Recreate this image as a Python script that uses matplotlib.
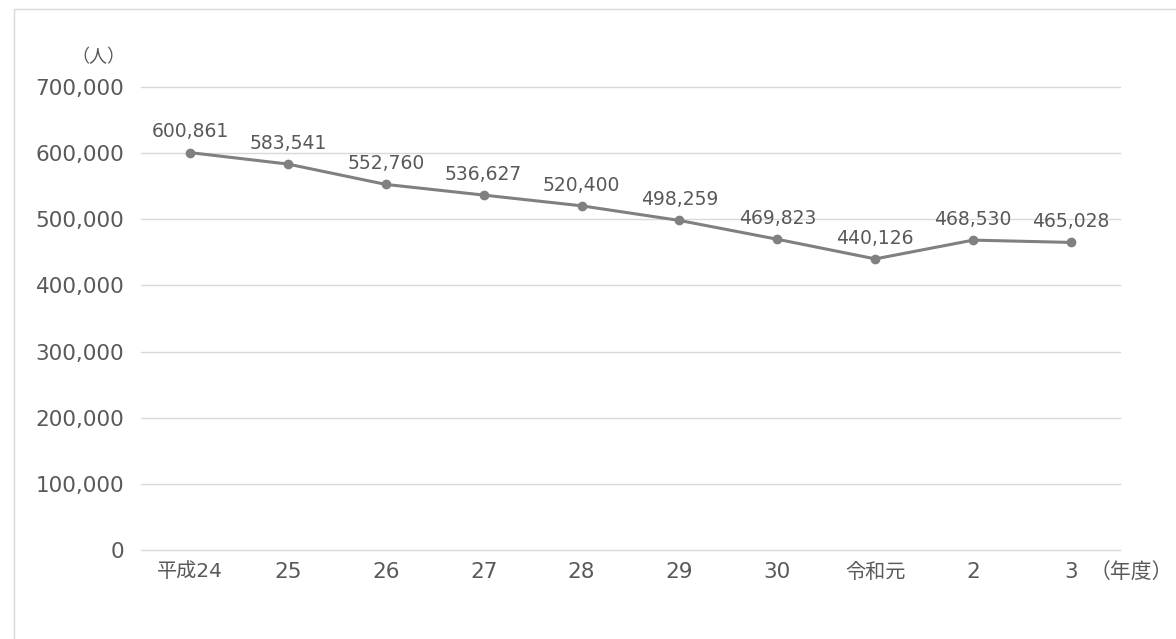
import matplotlib.pyplot as plt
from matplotlib.ticker import FuncFormatter
from matplotlib.patches import Rectangle

plt.rcParams['font.family'] = ['DejaVu Sans', 'Noto Sans CJK JP']

years = ["平成24", "25", "26", "27", "28", "29", "30", "令和元", "2", "3"]
counts = [600861, 583541, 552760, 536627, 520400, 498259, 469823, 440126, 468530, 465028]
yticks = [0, 100000, 200000, 300000, 400000, 500000, 600000, 700000]

text_col = "#595959"
line_col = "#808080"

fig = plt.figure(figsize=(11.76, 6.39), dpi=100)
ax = fig.add_axes([0.1199, 0.1393, 0.8325, 0.7245])

# outer frame (top and left visible)
fig.patches.append(Rectangle((14 / 1176, -0.1), 1.2, 1 - 9 / 639 + 0.1,
                             transform=fig.transFigure, fill=False,
                             edgecolor="#d9d9d9", linewidth=1))

x = list(range(len(years)))
ax.plot(x, counts, color=line_col, linewidth=2.2, marker="o", markersize=6, zorder=3)

for xi, v in zip(x, counts):
    ax.annotate(f"{v:,}", (xi, v), xytext=(0, 8), textcoords="offset points",
                ha="center", va="bottom", fontsize=13.5, color=text_col)

ax.set_xlim(-0.5, 9.5)
ax.set_ylim(0, 700000)
ax.set_yticks(yticks)
ax.yaxis.set_major_formatter(FuncFormatter(lambda v, p: f"{int(v):,}"))
ax.set_xticks(x)
ax.set_xticklabels(years)
for lbl in ax.get_xticklabels():
    if lbl.get_text() in ("平成24", "令和元"):
        lbl.set_fontsize(14.5)
    else:
        lbl.set_fontsize(15.5)

ax.tick_params(axis="y", length=0, pad=12, labelsize=15.5, labelcolor=text_col)
ax.tick_params(axis="x", length=0, pad=9, labelcolor=text_col)
ax.grid(axis="y", color="#d9d9d9", linewidth=1)
for gl in ax.get_ygridlines():
    gl.set_clip_on(False)
ax.set_axisbelow(True)
for s in ax.spines.values():
    s.set_visible(False)

fig.text(125 / 1176, 1 - 57 / 639, "（人）", ha="right", va="center", fontsize=13, color=text_col)
fig.text(1173 / 1176, 1 - 572 / 639, "（年度）", ha="right", va="center", fontsize=15, color=text_col)

fig.savefig("out.png", dpi=100)
